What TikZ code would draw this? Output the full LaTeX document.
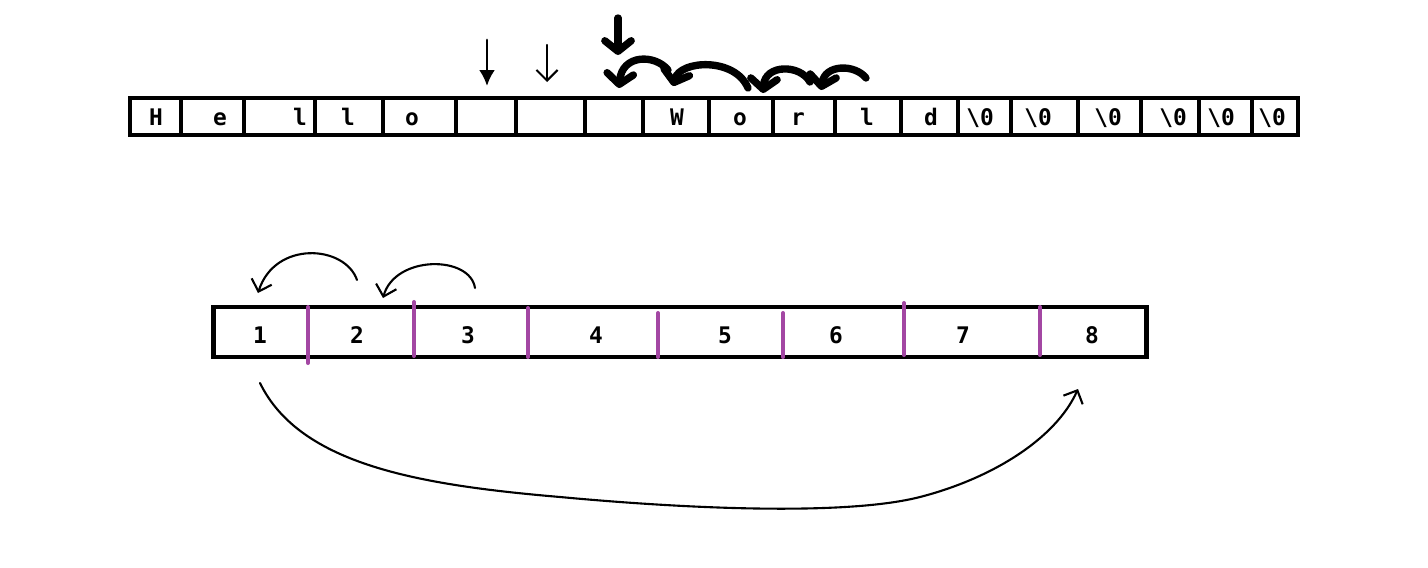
\documentclass[tikz,border=0pt]{standalone}
\usepackage{fontspec}
\setmonofont{DejaVu Sans Mono}
\usetikzlibrary{arrows.meta}
\definecolor{divpurple}{RGB}{163,71,163}
\tikzstyle{cell} = [rectangle, draw=black, line width=2.2pt, inner sep=0pt,
minimum height=0.74cm]
\tikzstyle{chr} = [inner sep=0pt, anchor=base, font=\fontsize{13}{15}\selectfont\ttfamily\bfseries]
\tikzstyle{num} = [inner sep=0pt, anchor=base, font=\fontsize{13}{15}\selectfont\ttfamily\bfseries]
\tikzstyle{divider} = [divpurple, line width=2.3pt, line cap=round]
\tikzstyle{pen} = [line width=1.2pt, line cap=round,
-{Straight Barb[length=6pt,width=12pt]}]
\tikzstyle{fat} = [line width=4.2pt, line cap=round,
-{Straight Barb[length=6pt,width=15pt,round]}]

\begin{document}
\begin{tikzpicture}[x=0.02cm, y=-0.02cm]
    \useasboundingbox (0,0) rectangle (1428,568);

    % top array: cell borders
    \foreach \i/\l/\r in {1/130/181, 2/181/244, 3/244/315, 4/315/383, 5/383/456,
        6/456/516, 7/516/585, 8/585/643, 9/643/709, 10/709/773, 11/773/835,
        12/835/901, 13/901/958, 14/958/1011, 15/1011/1078, 16/1078/1141,
        17/1141/1199, 18/1199/1252, 19/1252/1298}
        \node (c\i) [cell, minimum width={(\r-\l)*0.02cm}] at ({(\l+\r)/2},116.5) {};

    % top array: characters
    \foreach \i/\x/\t in {1/156/H, 2/220/e, 3/300/l, 4/348/l, 5/412/o,
        9/677/W, 10/740/o, 11/798/r, 12/867/l, 13/931/d}
        \node (t\i) [chr] at (\x,125) {\t};
    \foreach \i/\x in {14/980, 15/1038, 16/1108, 17/1173, 18/1221, 19/1272}
        \node (t\i) [chr] at (\x,125) {\textbackslash0};

    % arrows over the top array
    \coordinate (p1) at (487,40);
    \coordinate (q1) at (487,86);
    \coordinate (p2) at (547,45);
    \coordinate (q2) at (547,82);
    \draw[pen, line width=1.6pt, -{Latex[length=9pt,width=9pt]}] (p1) -- (q1);
    \draw[pen] (p2) -- (q2);

    \coordinate (d0) at (618,18);
    \coordinate (d1) at (618,55);
    \draw[fat] (d0) -- (d1);

    \coordinate (s1) at (668,70);
    \coordinate (e1) at (619,88);
    \coordinate (s2) at (748,88);
    \coordinate (e2) at (673,86);
    \coordinate (s3) at (810,82);
    \coordinate (e3) at (763,93);
    \coordinate (s4) at (866,78);
    \coordinate (e4) at (821,90);
    \draw[fat] (s1) .. controls (655,54) and (622,54) .. (e1);
    \draw[fat] (s2) .. controls (735,57) and (680,60) .. (e2);
    \draw[fat] (s3) .. controls (800,64) and (765,64) .. (e3);
    \draw[fat] (s4) .. controls (855,64) and (825,64) .. (e4);

    % bottom array
    \node (arr) [cell, line width=2.8pt, minimum width=18.68cm, minimum height=1cm]
        at (680,332) {};
    \draw[divider] (308,307) -- (308,363);
    \draw[divider] (414,302) -- (414,356);
    \draw[divider] (528,308) -- (528,357);
    \draw[divider] (658,313) -- (658,357);
    \draw[divider] (783,313) -- (783,357);
    \draw[divider] (904,303) -- (904,355);
    \draw[divider] (1040,307) -- (1040,355);

    \foreach \i/\x in {1/260, 2/357, 3/468, 4/596, 5/725, 6/836, 7/963, 8/1092}
        \node (n\i) [num] at (\x,343) {\i};

    % arrows round the bottom array
    \coordinate (a1) at (357,280);
    \coordinate (b1) at (258,293);
    \coordinate (a2) at (475,288);
    \coordinate (b2) at (383,298);
    \draw[pen] (a1) .. controls (345,245) and (275,240) .. (b1);
    \draw[pen] (a2) .. controls (470,255) and (395,255) .. (b2);

    \coordinate (a3) at (260,383);
    \coordinate (b3) at (1078,389);
    \draw[pen] (a3) .. controls (300,465) and (420,485) .. (560,497)
        .. controls (700,510) and (850,515) .. (920,497)
        .. controls (990,479) and (1055,440) .. (b3);
\end{tikzpicture}
\end{document}
